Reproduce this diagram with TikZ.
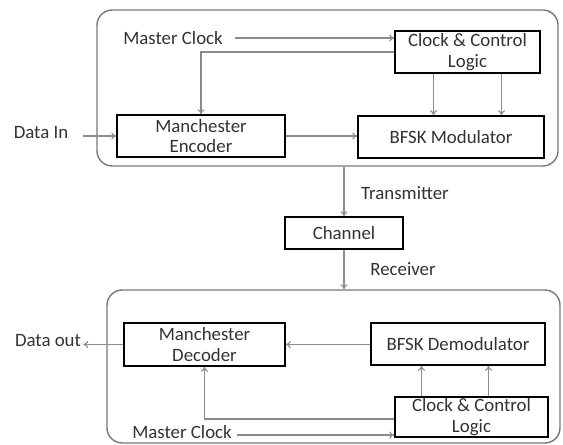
\documentclass[tikz,border=0pt]{standalone}
\usepackage{fontspec}
\setmainfont{Carlito}
\usetikzlibrary{arrows.meta}
\definecolor{linegray}{RGB}{140,140,140}
\definecolor{framegray}{RGB}{120,120,120}
\definecolor{textgray}{RGB}{50,50,50}
\begin{document}
\begin{tikzpicture}[x = 0.025cm, y = -0.025cm,
	every node/.style = {text = textgray, font = \fontsize{13.4}{14.4}\selectfont},
	block/.style = {draw = black, line width = 1.1pt, align = center, inner sep = 0pt},
	frame/.style = {draw = framegray, line width = 1pt, rounded corners = 0.38cm, inner sep = 0pt},
	arr/.style = {draw = linegray, line width = 0.8pt, -{To[length = 3.5pt, width = 5pt]}}]
	\useasboundingbox (0, 0) rectangle (563, 445);
	
	% transmitter side
	\node[frame, minimum width = 461*0.025cm, minimum height = 156*0.025cm] (tx) at (327.5, 88) {};
	\node[block, minimum width = 145*0.025cm, minimum height = 42*0.025cm] (ctlA) at (467.5, 52) {Clock \& Control\\Logic};
	\node[block, minimum width = 168*0.025cm, minimum height = 42*0.025cm] (enc) at (201, 136) {Manchester\\Encoder};
	\node[block, minimum width = 186*0.025cm, minimum height = 42*0.025cm] (mod) at (451, 137) {BFSK Modulator};
	\node[inner sep = 0pt] (mclkA) at (173, 38) {Master Clock};
	\node[inner sep = 0pt] (datain) at (41, 133) {Data In};
	
	\draw[arr] ([xshift = 12*0.025cm]mclkA.east) -- (ctlA.west |- mclkA.east);
	\draw[arr] (ctlA.west) -| (enc.north);
	\draw[arr] ([xshift = -34*0.025cm]ctlA.south) -- ([xshift = -34*0.025cm]ctlA.south |- mod.north);
	\draw[arr] ([xshift = 34*0.025cm]ctlA.south) -- ([xshift = 34*0.025cm]ctlA.south |- mod.north);
	\draw[arr] (enc.east) -- (mod.west |- enc.east);
	\draw[arr] ([xshift = 14*0.025cm]datain.east |- enc.west) -- (enc.west);
	
	% channel
	\node[block, minimum width = 118*0.025cm, minimum height = 32*0.025cm] (chan) at (344, 233) {Channel};
	\node (txlabel) at (405, 193) {Transmitter};
	\node (rxlabel) at (403, 269) {Receiver};
	\draw[arr] (chan.north |- tx.south) -- (chan.north);
	
	% receiver side
	\node[frame, minimum width = 453*0.025cm, minimum height = 153*0.025cm] (rx) at (333.5, 366.5) {};
	\node[block, minimum width = 161*0.025cm, minimum height = 43*0.025cm] (dec) at (204.5, 344.5) {Manchester\\Decoder};
	\node[block, minimum width = 174*0.025cm, minimum height = 42*0.025cm] (demod) at (458, 344) {BFSK Demodulator};
	\node[block, minimum width = 153*0.025cm, minimum height = 40*0.025cm] (ctlB) at (471.5, 417) {Clock \& Control\\Logic};
	\node[inner sep = 0pt] (mclkB) at (182, 432) {Master Clock};
	\node[inner sep = 0pt] (dataout) at (48, 341) {Data out};
	
	\draw[arr] (chan.south) -- (chan.south |- rx.north);
	\draw[arr] (demod.west |- dec.east) -- (dec.east);
	\draw[arr] (dec.west) -- ([xshift = 2*0.025cm]dataout.east |- dec.west);
	\draw[arr] ([xshift = -50*0.025cm]ctlB.north) -- ([xshift = -50*0.025cm]ctlB.north |- demod.south);
	\draw[arr] ([xshift = 17*0.025cm]ctlB.north) -- ([xshift = 17*0.025cm]ctlB.north |- demod.south);
	\draw[arr] ([yshift = -2*0.025cm]ctlB.west) -| (dec.south);
	\draw[arr] ([xshift = 5*0.025cm, yshift = -3*0.025cm]mclkB.east) -- ([yshift = -3*0.025cm]ctlB.west |- mclkB.east);
\end{tikzpicture}
\end{document}
